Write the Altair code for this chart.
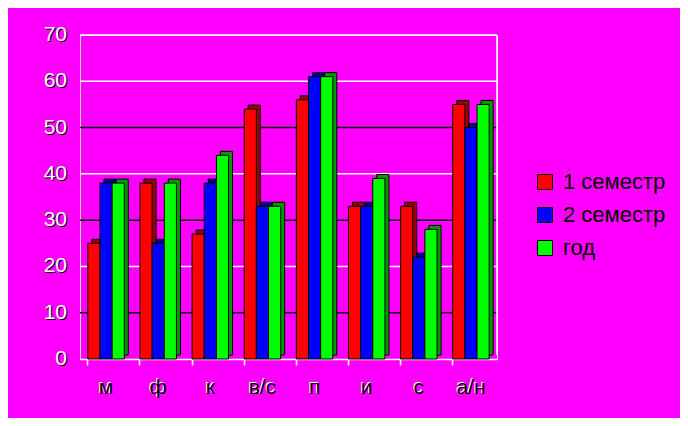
import altair as alt
import pandas as pd

categories = ["м", "ф", "к", "в/с", "п", "и", "с", "а/н"]
series = ["1 семестр", "2 семестр", "год"]
sem1 = [25, 38, 27, 54, 56, 33, 33, 55]
sem2 = [38, 25, 38, 33, 61, 33, 22, 50]
year = [38, 38, 44, 33, 61, 39, 28, 55]
y_ticks = [0, 10, 20, 30, 40, 50, 60, 70]
grid_black = [10, 30, 50]
grid_white = [20, 40, 60, 70]

front_colors = ["#ff0000", "#0000ff", "#00ff00"]
side_colors = ["#990000", "#000099", "#009900"]

rows = []
for ser, vals in zip(series, [sem1, sem2, year]):
    for c, v in zip(categories, vals):
        rows.append({"cat": c, "series": ser, "value": v})
df = pd.DataFrame(rows)

FONT = "Liberation Sans"
W, H = 417, 324
PI, PO = 0.3, 0.15
DEPTH = 4
step = W / (len(categories) - PI + 2 * PO)
bw = step * (1 - PI)

yscale = alt.Scale(domain=[0, 70], nice=False, zero=True)
xscale = alt.Scale(domain=categories, paddingInner=PI, paddingOuter=PO)

gb = alt.Chart(pd.DataFrame({"v": grid_black})).mark_rule(color="black", strokeWidth=1.5).encode(
    y=alt.Y("v:Q", scale=yscale, axis=None))
gw = alt.Chart(pd.DataFrame({"v": grid_white})).mark_rule(color="white", strokeWidth=1.5).encode(
    y=alt.Y("v:Q", scale=yscale, axis=None))
right_border = alt.Chart(pd.DataFrame({"v": [0]})).mark_rule(color="white", strokeWidth=1.5).encode(
    x=alt.value(W), y=alt.value(0), y2=alt.value(H - 4))

xaxis = alt.Axis(title=None, labels=False, domainColor="white", domainWidth=1.5,
                 tickColor="white", tickSize=6, tickWidth=1.5, bandPosition=0, grid=False)
yaxis = alt.Axis(title=None, labels=False, values=y_ticks, tickColor="white",
                 tickSize=5, tickWidth=1.5, domainColor="white", domainWidth=1.5, grid=False)

side = alt.Chart(df).mark_bar(yOffset=-DEPTH, y2Offset=-DEPTH, stroke="black", strokeWidth=1).encode(
    x=alt.X("cat:N", scale=xscale, sort=categories, axis=xaxis),
    xOffset=alt.XOffset("series:N", sort=series,
                        scale=alt.Scale(domain=series, range=[DEPTH, bw + DEPTH], paddingInner=0, paddingOuter=0)),
    y=alt.Y("value:Q", scale=yscale, axis=yaxis),
    fill=alt.Fill("series:N", scale=alt.Scale(domain=series, range=side_colors), legend=None),
)

front = alt.Chart(df).mark_bar(stroke="black", strokeWidth=1).encode(
    x=alt.X("cat:N", scale=xscale, sort=categories, axis=xaxis),
    xOffset=alt.XOffset("series:N", sort=series,
                        scale=alt.Scale(domain=series, range=[0, bw], paddingInner=0, paddingOuter=0)),
    y=alt.Y("value:Q", scale=yscale, axis=yaxis),
    fill=alt.Fill("series:N", sort=series,
                  scale=alt.Scale(domain=series, range=front_colors),
                  legend=alt.Legend(title=None, orient="none", legendX=454, legendY=136,
                                    labelFontSize=22, labelFont=FONT, labelColor="black",
                                    symbolType="square", symbolSize=225,
                                    symbolStrokeColor="black", symbolStrokeWidth=1,
                                    rowPadding=11, labelOffset=7, padding=0)),
)

lab_df = pd.DataFrame({"v": y_ticks, "t": [str(v) for v in y_ticks]})
ylab_shadow = alt.Chart(lab_df).mark_text(align="right", baseline="middle", fontSize=21,
                                          font=FONT, color="black", dx=1, dy=1).encode(
    x=alt.value(-13), y=alt.Y("v:Q", scale=yscale), text="t:N")
ylab = alt.Chart(lab_df).mark_text(align="right", baseline="middle", fontSize=21,
                                   font=FONT, color="white").encode(
    x=alt.value(-13), y=alt.Y("v:Q", scale=yscale), text="t:N")

cat_df = pd.DataFrame({"cat": categories})
xlab_shadow = alt.Chart(cat_df).mark_text(align="center", baseline="alphabetic", fontSize=21,
                                          font=FONT, color="white", dx=-1, dy=-1).encode(
    x=alt.X("cat:N", scale=xscale, sort=categories, axis=xaxis, bandPosition=0.5),
    y=alt.value(H + 35), text="cat:N")
xlab = alt.Chart(cat_df).mark_text(align="center", baseline="alphabetic", fontSize=21,
                                   font=FONT, color="black").encode(
    x=alt.X("cat:N", scale=xscale, sort=categories, axis=xaxis, bandPosition=0.5),
    y=alt.value(H + 35), text="cat:N")

chart = alt.layer(gb, gw, right_border, side, front, ylab_shadow, ylab, xlab_shadow, xlab).resolve_scale(
    fill="independent", xOffset="independent"
).properties(
    width=W, height=H,
    autosize=alt.AutoSizeParams(type="none"),
    padding={"left": 72, "top": 27, "right": 183, "bottom": 59},
    background="#ff00ff",
).configure_view(stroke=None).configure(font=FONT)

chart.save("out.html", embed_options={"renderer": "svg", "actions": False})
